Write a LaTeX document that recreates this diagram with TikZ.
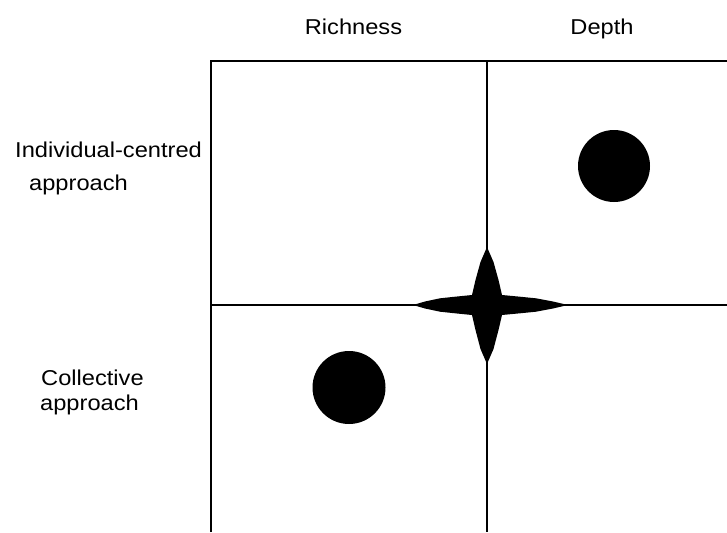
\documentclass[tikz,border=0pt]{standalone}
\usepackage{fontspec}
\setmainfont{Liberation Sans}[FakeStretch=1.1]
\begin{document}
\begin{tikzpicture}[x=1pt,y=-1pt,
  lbl/.style={font=\fontsize{21.5}{26}\selectfont, inner sep=0pt},
  outer/.style={line width=1.4pt},
  inner/.style={line width=1.1pt},
  blob/.style={fill=black}]
\useasboundingbox (0,0) rectangle (727,532);
\fill[white] (0,0) rectangle (727,532);
% frame coordinates
\coordinate (tl) at (211,61);
\coordinate (bl) at (211,532);
\coordinate (tr) at (727,61);
\coordinate (mt) at (487,61);
\coordinate (mb) at (487,532);
\coordinate (ml) at (211,305);
\coordinate (mr) at (727,305);
\draw[outer] (bl) -- (tl) -- (tr);
\draw[inner] (mt) -- (mb);
\draw[inner] (ml) -- (mr);
% star
\fill (487,247) -- (480.5,262) -- (475.5,280) -- (472,295)
  -- (455,296.7) -- (440,298.3) -- (425,301.5) -- (413,305)
  -- (425,308.5) -- (440,311.7) -- (455,313.3) -- (472,315)
  -- (475.5,330) -- (480.5,349) -- (487,364)
  -- (493.5,349) -- (498.5,330) -- (502,315)
  -- (520,313.3) -- (536,311.7) -- (553,308.5) -- (568,305)
  -- (553,301.5) -- (536,298.3) -- (520,296.7) -- (502,295)
  -- (498.5,280) -- (493.5,262) -- cycle;
% circles
\fill[blob] (614,166) circle (36pt);
\fill[blob] (349,387.5) circle (36.5pt);
% labels
\node[lbl, anchor=base] (rich) at (353.5,35) {Richness};
\node[lbl, anchor=base] (depth) at (602,35) {Depth};
\node[lbl, anchor=base west] (ind) at (15,157) {Individual-centred};
\node[lbl, anchor=base west] (ind2) at (29,190) {approach};
\node[lbl, anchor=base west] (col) at (41,385) {Collective};
\node[lbl, anchor=base west] (col2) at (40,410) {approach};
\end{tikzpicture}
\end{document}
